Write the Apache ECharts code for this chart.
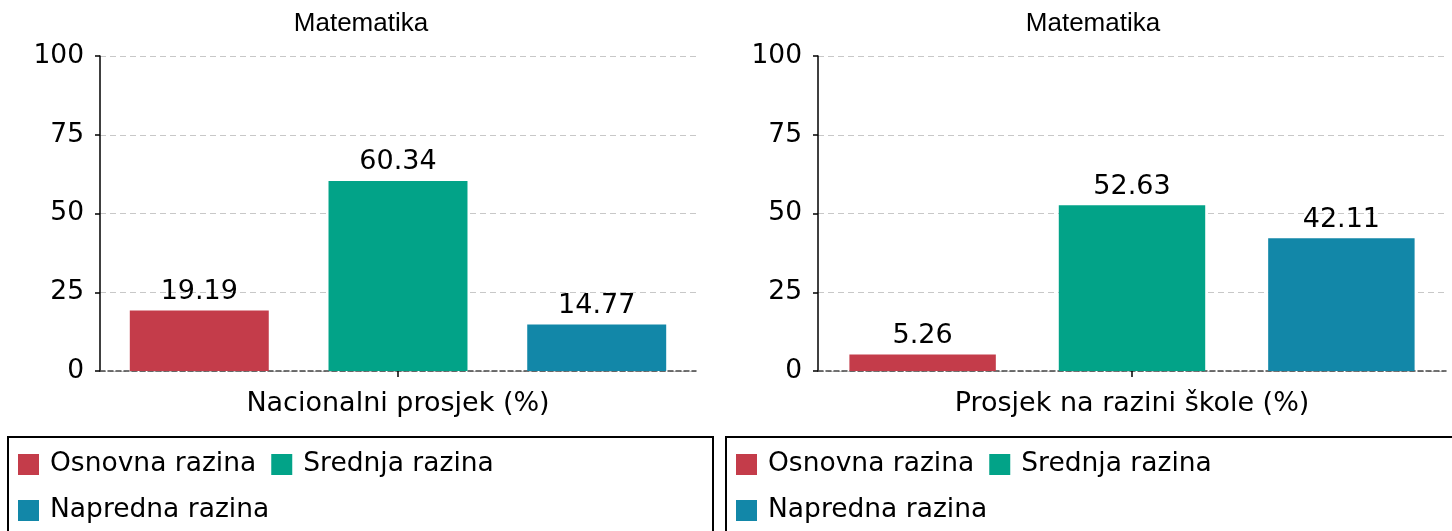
<!DOCTYPE html>
<html>
<head>
<meta charset="utf-8">
<script src="https://cdn.jsdelivr.net/npm/echarts@6/dist/echarts.min.js"></script>
<style>html,body{margin:0;padding:0;background:#fff}#c{width:1452px;height:531px}</style>
</head>
<body>
<div id="c"></div>
<script>
const panelTitles = ['Matematika', 'Matematika'];
const categoriesLeft = ['Nacionalni prosjek (%)'];
const categoriesRight = ['Prosjek na razini škole (%)'];
const seriesNames = ['Osnovna razina', 'Srednja razina', 'Napredna razina'];
const valuesLeft = [19.19, 60.34, 14.77];
const valuesRight = [5.26, 52.63, 42.11];
const yTicks = [0, 25, 50, 75, 100];
const colors = ['#C43C4A', '#02A388', '#1287A8'];

const FONT = 'DejaVu Sans';
const FS = 27;
const chart = echarts.init(document.getElementById('c'), null, {renderer: 'canvas'});

function yAxis(gi) {
  return {
    type: 'value', gridIndex: gi, min: yTicks[0], max: yTicks[yTicks.length - 1], interval: 25,
    axisLine: {show: true, lineStyle: {color: '#000', width: 1.5}},
    axisTick: {show: true, length: 5, lineStyle: {color: '#000', width: 1.5}},
    axisLabel: {color: '#000', fontFamily: FONT, fontSize: 26.5, margin: 16},
    splitLine: {show: true, lineStyle: {color: '#c8c8c8', type: [6, 4], width: 1}}
  };
}
function xAxis(gi, cats) {
  return {
    type: 'category', gridIndex: gi, data: cats,
    axisLine: {show: true, onZero: false, lineStyle: {color: '#444', type: [5, 3], width: 1.5}},
    axisTick: {show: true, alignWithLabel: true, length: 6, lineStyle: {color: '#000', width: 1.5}},
    axisLabel: {color: '#000', fontFamily: FONT, fontSize: FS, margin: 19}
  };
}
function bars(gi, vals) {
  return seriesNames.map((n, i) => ({
    name: n, type: 'bar', xAxisIndex: gi, yAxisIndex: gi,
    data: [vals[i]],
    itemStyle: {color: colors[i]},
    barCategoryGap: '10%', barGap: '43%',
    label: {show: true, position: 'top', distance: 5, color: '#000', fontFamily: FONT, fontSize: FS,
      formatter: p => p.value.toFixed(2)}
  }));
}
function legend(left) {
  return {
    left: left, top: 444, width: 580, orient: 'horizontal',
    itemWidth: 21, itemHeight: 21, itemGap: 15, icon: 'rect',
    data: seriesNames,
    textStyle: {color: '#000', fontFamily: FONT, fontSize: 26.5, lineHeight: 31, padding: [0, 0, 0, 6]},
    selectedMode: false
  };
}

chart.setOption({
  backgroundColor: '#fff',
  animation: false,
  title: [
    {text: panelTitles[0], left: 356, top: 6, textAlign: 'center',
      textStyle: {fontFamily: 'Liberation Sans', fontSize: 26, fontWeight: 'normal', color: '#000'}},
    {text: panelTitles[1], left: 1088, top: 6, textAlign: 'center',
      textStyle: {fontFamily: 'Liberation Sans', fontSize: 26, fontWeight: 'normal', color: '#000'}}
  ],
  grid: [
    {left: 100, right: 756, top: 56, bottom: 160},
    {left: 818, right: 6, top: 56, bottom: 160}
  ],
  xAxis: [xAxis(0, categoriesLeft), xAxis(1, categoriesRight)],
  yAxis: [yAxis(0), yAxis(1)],
  legend: [legend(13), legend(731)],
  series: [...bars(0, valuesLeft), ...bars(1, valuesRight)],
  graphic: [
    {type: 'rect', shape: {x: 8, y: 437, width: 705, height: 140}, style: {fill: 'none', stroke: '#000', lineWidth: 2}, silent: true},
    {type: 'rect', shape: {x: 726, y: 437, width: 740, height: 140}, style: {fill: 'none', stroke: '#000', lineWidth: 2}, silent: true}
  ]
});
</script>
</body>
</html>
